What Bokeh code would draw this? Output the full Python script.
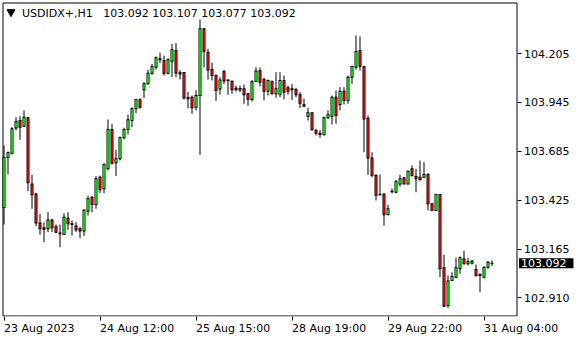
from bokeh.plotting import figure
from bokeh.models import Range1d, FixedTicker, Label, PrintfTickFormatter, CustomJSTickFormatter
from bokeh.embed import file_html
from bokeh.resources import INLINE

# ---- data (H1 bars) ----
opens = [103.388, 103.653, 103.676, 103.809, 103.849, 103.819, 103.864, 103.513, 103.460, 103.306,
         103.280, 103.275, 103.322, 103.287, 103.253, 103.244, 103.331, 103.301, 103.289, 103.276,
         103.263, 103.368, 103.442, 103.404, 103.548, 103.487, 103.595, 103.802, 103.625, 103.646,
         103.758, 103.802, 103.849, 103.912, 103.959, 104.012, 104.044, 104.100, 104.132, 104.177,
         104.168, 104.100, 104.164, 104.221, 104.103, 104.104, 103.972, 103.973, 103.920, 103.982,
         104.336, 104.210, 104.120, 104.088, 104.017, 104.109, 104.065, 104.058, 104.021, 104.011,
         104.018, 103.991, 103.961, 104.056, 104.113, 104.067, 104.005, 104.056, 103.991, 103.987,
         104.062, 104.023, 104.012, 104.014, 103.986, 103.933, 103.872, 103.890, 103.796, 103.782,
         103.774, 103.864, 103.872, 103.973, 103.934, 104.005, 103.956, 104.079, 104.132, 104.221,
         104.136, 103.862, 103.651, 103.557, 103.457, 103.460, 103.351, 103.471, 103.469, 103.513,
         103.545, 103.513, 103.593, 103.552, 103.548, 103.548, 103.563, 103.407, 103.372, 103.457,
         103.068, 102.868, 103.000, 103.018, 103.062, 103.115, 103.089, 103.092, 103.059, 103.032,
         103.018, 103.071, 103.092]
highs = [103.717, 103.685, 103.814, 103.867, 103.872, 103.903, 103.867, 103.561, 103.466, 103.354,
         103.308, 103.363, 103.327, 103.297, 103.297, 103.357, 103.363, 103.319, 103.310, 103.284,
         103.377, 103.448, 103.448, 103.554, 103.557, 103.623, 103.855, 103.832, 103.693, 103.765,
         103.811, 103.881, 103.920, 103.965, 103.968, 104.053, 104.119, 104.150, 104.189, 104.209,
         104.194, 104.180, 104.256, 104.260, 104.117, 104.106, 104.001, 103.982, 104.009, 104.385,
         104.339, 104.230, 104.157, 104.094, 104.079, 104.119, 104.067, 104.062, 104.035, 104.035,
         104.040, 103.996, 104.064, 104.132, 104.131, 104.076, 104.067, 104.062, 104.106, 104.106,
         104.088, 104.035, 104.044, 104.023, 104.000, 103.965, 103.917, 103.892, 103.805, 103.800,
         103.871, 103.903, 103.982, 104.009, 104.026, 104.026, 104.088, 104.141, 104.301, 104.295,
         104.138, 103.876, 103.681, 103.565, 103.563, 103.460, 103.402, 103.489, 103.535, 103.561,
         103.548, 103.584, 103.611, 103.593, 103.637, 103.628, 103.570, 103.407, 103.460, 103.460,
         103.138, 103.027, 103.044, 103.121, 103.128, 103.159, 103.121, 103.110, 103.085, 103.039,
         103.075, 103.103, 103.107]
lows = [103.297, 103.563, 103.669, 103.796, 103.747, 103.817, 103.474, 103.381, 103.288, 103.243,
        103.204, 103.257, 103.257, 103.253, 103.177, 103.241, 103.270, 103.239, 103.257, 103.225,
        103.237, 103.345, 103.363, 103.381, 103.464, 103.464, 103.584, 103.616, 103.554, 103.637,
        103.749, 103.775, 103.814, 103.888, 103.912, 103.968, 104.039, 104.092, 104.119, 104.154,
        104.088, 104.094, 104.079, 104.079, 104.067, 103.961, 103.913, 103.885, 103.903, 103.667,
        104.131, 104.067, 104.062, 103.953, 103.986, 104.044, 103.986, 103.991, 104.003, 104.000,
        103.938, 103.928, 103.950, 104.053, 104.030, 103.956, 103.982, 103.987, 103.970, 103.973,
        103.961, 103.986, 103.959, 103.973, 103.915, 103.924, 103.849, 103.796, 103.770, 103.758,
        103.770, 103.858, 103.828, 103.832, 103.903, 103.934, 103.938, 104.044, 104.120, 104.115,
        103.681, 103.561, 103.548, 103.425, 103.452, 103.292, 103.345, 103.462, 103.464, 103.499,
        103.513, 103.510, 103.552, 103.469, 103.531, 103.547, 103.372, 103.368, 103.368, 103.018,
        102.859, 102.855, 102.997, 103.012, 103.036, 103.085, 103.080, 103.085, 103.021, 102.938,
        103.012, 103.062, 103.077]
closes = [103.653, 103.680, 103.805, 103.844, 103.814, 103.867, 103.519, 103.455, 103.306, 103.275,
          103.272, 103.322, 103.280, 103.257, 103.248, 103.336, 103.301, 103.297, 103.269, 103.263,
          103.375, 103.434, 103.403, 103.540, 103.482, 103.616, 103.802, 103.623, 103.646, 103.758,
          103.802, 103.853, 103.912, 103.959, 103.920, 104.044, 104.100, 104.136, 104.182, 104.172,
          104.100, 104.172, 104.225, 104.102, 104.096, 103.969, 103.965, 103.917, 103.982, 104.336,
          104.216, 104.117, 104.088, 104.009, 104.065, 104.059, 104.060, 104.012, 104.014, 104.019,
          103.986, 103.962, 104.055, 104.112, 104.053, 104.005, 104.062, 103.991, 104.018, 104.062,
          104.000, 104.005, 104.018, 103.986, 103.941, 103.925, 103.890, 103.800, 103.782, 103.775,
          103.864, 103.881, 103.973, 103.876, 104.005, 103.956, 104.079, 104.136, 104.216, 104.138,
          103.858, 103.651, 103.557, 103.453, 103.455, 103.349, 103.381, 103.474, 103.526, 103.540,
          103.513, 103.580, 103.557, 103.540, 103.535, 103.563, 103.407, 103.372, 103.457, 103.062,
          102.864, 102.997, 103.021, 103.068, 103.121, 103.089, 103.101, 103.103, 103.027, 103.027,
          103.071, 103.097, 103.092]

x_tick_bars = [0, 24, 48, 72, 96, 120]
x_tick_labels = ["23 Aug 2023", "24 Aug 12:00", "25 Aug 15:00", "28 Aug 19:00", "29 Aug 22:00", "31 Aug 04:00"]
y_ticks = [104.205, 103.945, 103.685, 103.425, 103.165, 102.910]
symbol = "USDIDX+,H1"

# ---- layout constants (pixels) ----
W, H = 580, 340
BOTTOM_PANEL = 24
FRAME_H = H - BOTTOM_PANEL          # frame covers whole width, y 0..316
PX_PER_BAR = 4.0
FIRST_BAR_PX = 3.5                  # centre of first bar
CHART_LEFT_PX, CHART_RIGHT_PX = 2.5, 516.5
CHART_TOP_PX, CHART_BOTTOM_PX = 2.5, 315.5
Y_TOP, Y_BOTTOM = 104.4863, 102.8092   # price at frame top / bottom
FONT = "DejaVu Sans"
FS = 11

x0 = -FIRST_BAR_PX / PX_PER_BAR
x1 = x0 + W / PX_PER_BAR
PRICE_PER_PX = (Y_TOP - Y_BOTTOM) / FRAME_H
def px_to_x(px):
    return x0 + px / PX_PER_BAR
def py_to_y(py):
    return Y_TOP - PRICE_PER_PX * py

# approximate DejaVu Sans advance widths (em) to start each time label at its tick
ADV = {" ": 0.318, ":": 0.337, "A": 0.684, "u": 0.634, "g": 0.635}
def text_w(s):
    return sum(ADV.get(ch, 0.636) for ch in s) * FS

# ---- derived ----
n = len(opens)
idx = list(range(n))
tops = [max(o, c) for o, c in zip(opens, closes)]
bottoms = [min(o, c) for o, c in zip(opens, closes)]
# black body box slightly taller than the body; coloured core inside it
box_top = [t + 0.5 * PRICE_PER_PX for t in tops]
box_bot = [b - 0.5 * PRICE_PER_PX for b in bottoms]
core = [i for i in idx if tops[i] - bottoms[i] > 1.0 * PRICE_PER_PX]
core_top = [tops[i] - 0.5 * PRICE_PER_PX for i in core]
core_bot = [bottoms[i] + 0.5 * PRICE_PER_PX for i in core]
core_col = ["#00FF00" if closes[i] > opens[i] else "#FF0000" for i in core]
label_pos = [b + text_w(t) / 2.0 / PX_PER_BAR for b, t in zip(x_tick_bars, x_tick_labels)]

p = figure(width=W, height=H, output_backend="svg", toolbar_location=None,
           x_range=Range1d(x0, x1), y_range=Range1d(Y_BOTTOM, Y_TOP),
           y_axis_location="right",
           min_border_left=0, min_border_top=0, min_border_right=0, min_border_bottom=BOTTOM_PANEL)
p.background_fill_color = "white"
p.border_fill_color = "white"
p.outline_line_color = None
p.xgrid.visible = False
p.ygrid.visible = False

# chart frame (MT4 style box)
L, R = px_to_x(CHART_LEFT_PX), px_to_x(CHART_RIGHT_PX)
T, B = py_to_y(CHART_TOP_PX), py_to_y(CHART_BOTTOM_PX)
p.segment(x0=[L, L, R, L], y0=[T, B, T, T], x1=[L, R, R, R], y1=[B, B, B, T],
          line_color="black", line_width=1)

# candles: wick, black 3px box, coloured core
p.segment(x0=idx, y0=highs, x1=idx, y1=lows, line_color="black", line_width=1)
p.vbar(x=idx, top=box_top, bottom=box_bot, width=3 / PX_PER_BAR,
       fill_color="black", line_color=None)
p.vbar(x=core, top=core_top, bottom=core_bot, width=1.6 / PX_PER_BAR,
       fill_color=core_col, line_color=None)

# price scale: right axis drawn at the chart's right edge
ya = p.yaxis[0]
ya.fixed_location = R
ya.ticker = FixedTicker(ticks=y_ticks)
ya.formatter = PrintfTickFormatter(format="%.3f")
ya.axis_line_color = None
ya.major_tick_out = 4
ya.major_tick_in = 0
ya.minor_tick_line_color = None
ya.major_tick_line_color = "black"
ya.major_label_standoff = 3
ya.major_label_text_font = FONT
ya.major_label_text_font_size = "11px"
ya.major_label_text_color = "black"

# time scale: tick marks at the bars (minor ticks), labels starting at the tick
xa = p.xaxis[0]
xa.ticker = FixedTicker(ticks=label_pos, minor_ticks=x_tick_bars)
xa.formatter = CustomJSTickFormatter(
    args=dict(pos=label_pos, labels=x_tick_labels),
    code="""
const i = pos.findIndex((v) => Math.abs(v - tick) < 1e-6);
return i >= 0 ? labels[i] : "";
""")
xa.axis_line_color = None
xa.major_tick_line_color = None
xa.major_tick_out = 4
xa.major_tick_in = 0
xa.minor_tick_line_color = "black"
xa.minor_tick_out = 4
xa.minor_tick_in = 0
xa.major_label_standoff = 1
xa.major_label_text_font = FONT
xa.major_label_text_font_size = "11px"
xa.major_label_text_color = "black"

# header
last = n - 1
header = "%s\u00a0\u00a0 %.3f %.3f %.3f %.3f" % (symbol, opens[last], highs[last], lows[last], closes[last])
p.scatter(x=[px_to_x(10.5)], y=[py_to_y(11.5)], marker="inverted_triangle", size=8,
          fill_color="black", line_color="black")
p.add_layout(Label(x=px_to_x(21.5), y=py_to_y(13), text=header, text_baseline="middle",
                   text_align="left", text_font=FONT, text_font_size="11px", text_color="black"))

# current price box on the price scale
p.add_layout(Label(x=px_to_x(518.5), y=closes[last], text="%.3f" % closes[last],
                   text_baseline="middle", text_align="left", text_font=FONT, text_font_size="11px",
                   text_color="white", background_fill_color="black",
                   padding=dict(left=2, right=7, top=1, bottom=1)))

open("out.html", "w").write(file_html(p, INLINE))
